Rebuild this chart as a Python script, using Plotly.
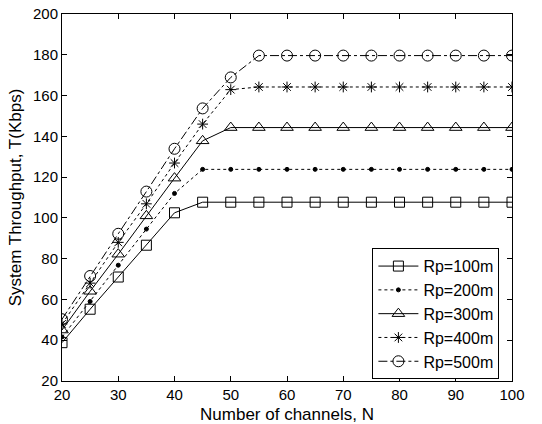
import plotly.graph_objects as go

channels = [20, 25, 30, 35, 40, 45, 50, 55, 60, 65, 70, 75, 80, 85, 90, 95, 100]
rp100 = [38.8, 55.2, 71, 86.6, 102.5, 107.7, 107.7, 107.7, 107.7, 107.7, 107.7, 107.7, 107.7, 107.7, 107.7, 107.7, 107.7]
rp200 = [41.6, 59, 76.8, 94.5, 112, 123.8, 123.8, 123.8, 123.8, 123.8, 123.8, 123.8, 123.8, 123.8, 123.8, 123.8, 123.8]
rp300 = [45, 64, 82.2, 101, 119.5, 137.8, 144.3, 144.3, 144.3, 144.3, 144.3, 144.3, 144.3, 144.3, 144.3, 144.3, 144.3]
rp400 = [48, 68, 88, 106.9, 126.9, 146, 162.9, 164.2, 164.2, 164.2, 164.2, 164.2, 164.2, 164.2, 164.2, 164.2, 164.2]
rp500 = [50.3, 71.5, 92.2, 112.9, 133.9, 153.7, 168.9, 179.6, 179.6, 179.6, 179.6, 179.6, 179.6, 179.6, 179.6, 179.6, 179.6]

series = [
    ("Rp=100m", rp100, "solid", "square-open", 10),
    ("Rp=200m", rp200, "dot", "circle", 4),
    ("Rp=300m", rp300, "solid", "triangle-up-open", 11),
    ("Rp=400m", rp400, "dot", "asterisk-open", 9),
    ("Rp=500m", rp500, "dashdot", "circle-open", 11),
]

fig = go.Figure()
for name, ys, dash, sym, sz in series:
    fig.add_trace(go.Scatter(
        x=channels, y=ys, name=name, mode="lines+markers",
        line=dict(color="black", width=1, dash=dash),
        marker=dict(symbol=sym, size=sz, color="black", line=dict(color="black", width=1)),
    ))

axis_common = dict(
    showline=True, linecolor="black", linewidth=1, mirror="ticks",
    ticks="inside", ticklen=5, tickcolor="black", showgrid=False, zeroline=False,
    tickfont=dict(size=15, color="black"), automargin=False,
)
fig.update_xaxes(range=[20, 100], dtick=10, tick0=20,
                 title=dict(text="Number of channels, N", font=dict(size=17, color="black"), standoff=6),
                 **axis_common)
fig.update_yaxes(range=[20, 200], dtick=20, tick0=20,
                 title=dict(text="System Throughput, T(Kbps)", font=dict(size=17, color="black"), standoff=7),
                 **axis_common)

fig.update_layout(
    width=542, height=424,
    margin=dict(l=62, r=30, t=14, b=43),
    paper_bgcolor="white", plot_bgcolor="white",
    font=dict(family="Liberation Sans, Arial, sans-serif", color="black"),
    showlegend=True,
    legend=dict(x=0.972, xanchor="right", y=0.005, yanchor="bottom",
                bordercolor="black", borderwidth=1, bgcolor="white",
                font=dict(size=16, color="black"), itemwidth=40,
                tracegroupgap=0),
)

fig.write_html("out.html")
